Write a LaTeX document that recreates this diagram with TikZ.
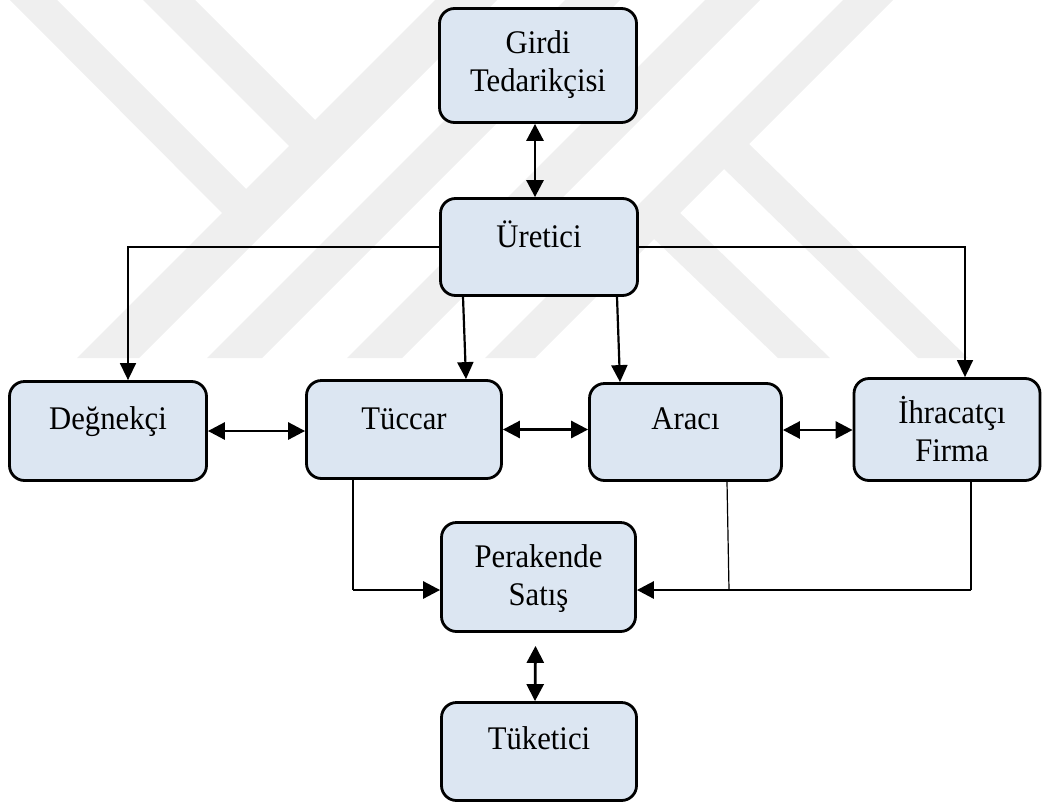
\documentclass[tikz,border=0pt]{standalone}
\usepackage{fontspec}
\setmainfont{Liberation Serif}[FakeStretch=0.93]
\usetikzlibrary{arrows.meta,positioning}

\definecolor{kutumavi}{RGB}{220,230,242}
\definecolor{filigran}{RGB}{239,239,239}

\tikzset{
  kutu/.style={draw=black,line width=2.8pt,rounded corners=15pt,fill=kutumavi,inner sep=0pt},
  yazi/.style={inner sep=0pt,align=center,anchor=north,font=\fontsize{33}{38}\selectfont,execute at begin node=\strut},
  ince/.style={draw=black,line width=1.2pt},
  dal/.style={draw=black,line width=1.5pt,-{Triangle[length=17pt,width=16pt]}},
  ok/.style={draw=black,line width=2.2pt,-{Triangle[length=17pt,width=16pt]}},
  kalinok/.style={draw=black,line width=2.8pt,-{Triangle[length=17pt,width=17pt]}},
  ciftok/.style={draw=black,line width=2.8pt,{Triangle[length=17pt,width=17pt]}-{Triangle[length=17pt,width=17pt]}}
}

\begin{document}
\begin{tikzpicture}[x=1pt,y=-1pt]

\useasboundingbox (0,0) rectangle (1051,803);

%filigran
\begin{scope}
\clip (0,0) rectangle (1051,358);
\fill[filigran] (435,0) -- (497,0) -- (139,358) -- (77,358) -- cycle;
\fill[filigran] (565,0) -- (620,0) -- (262,358) -- (207,358) -- cycle;
\fill[filigran] (705,0) -- (760,0) -- (402,358) -- (347,358) -- cycle;
\fill[filigran] (843,0) -- (893,0) -- (535,358) -- (485,358) -- cycle;
\fill[filigran] (10,0) -- (57,0) -- (253,196) -- (229,220) -- cycle;
\fill[filigran] (143,0) -- (195,0) -- (322,127) -- (296,153) -- cycle;
\fill[filigran] (650,235) -- (676,209) -- (830,358) -- (778,358) -- cycle;
\fill[filigran] (720,165) -- (745,140) -- (968,358) -- (918,358) -- cycle;
\end{scope}

%kutular
\node[kutu,minimum width=197pt,minimum height=114pt] (girdi) at (538,65.5) {};
\node[kutu,minimum width=197pt,minimum height=97pt] (uretici) at (539,247) {};
\node[kutu,minimum width=197pt,minimum height=99pt] (degnek) at (108,431) {};
\node[kutu,minimum width=195pt,minimum height=98pt] (tuccar) at (404,429.5) {};
\node[kutu,minimum width=192pt,minimum height=97pt] (araci) at (685.5,432) {};
\node[kutu,minimum width=186pt,minimum height=102pt] (ihrac) at (947,429.5) {};
\node[kutu,minimum width=194pt,minimum height=109pt] (perakende) at (538.5,577) {};
\node[kutu,minimum width=195pt,minimum height=98pt] (tuketici) at (539,751.5) {};

%yazilar
\node[yazi,below=23pt of girdi.north] (girdit) {Girdi\\Tedarikçisi};
\node[yazi,below=23pt of uretici.north] (ureticit) {Üretici};
\node[yazi,below=23pt of degnek.north] (degnekt) {Değnekçi};
\node[yazi,below=24pt of tuccar.north] (tuccart) {Tüccar};
\node[yazi,below=21pt of araci.north] (aracit) {Aracı};
\node[yazi,below=19pt of ihrac.north,xshift=5pt] (ihract) {İhracatçı\\Firma};
\node[yazi,below=23pt of perakende.north] (perakendet) {Perakende\\Satış};
\node[yazi,below=22pt of tuketici.north] (tuketicit) {Tüketici};

%uretici
\draw[ciftok] ([xshift=-3pt]girdi.south) -- ([xshift=-4pt]uretici.north);
\draw[dal] (uretici.west) -| ([xshift=20pt]degnek.north);
\draw[dal] (uretici.east) -| ([xshift=18pt]ihrac.north);
\draw[ok] ([xshift=-76pt]uretici.south) -- ([xshift=62pt]tuccar.north);
\draw[ok] ([xshift=78pt]uretici.south) -- ([xshift=-65.5pt]araci.north);

%aracilar
\draw[ciftok] (degnek.east) -- (degnek.east -| tuccar.west);
\draw[ciftok] (tuccar.east) -- (tuccar.east -| araci.west);
\draw[ciftok] ([yshift=2pt]araci.east) -- ([yshift=2pt]araci.east -| ihrac.west);

%perakende
\coordinate (sol) at (353,590);
\coordinate (orta) at (729,590);
\coordinate (sag) at (971,590);
\draw[ince] (tuccar.south -| sol) -- (sol);
\draw[kalinok] (sol) -- (sol -| perakende.west);
\draw[ince] ([xshift=-2pt]araci.south -| orta) -- (orta);
\draw[ince] (ihrac.south -| sag) -- (sag);
\draw[kalinok] (sag) -- (sag -| perakende.east);

%tuketici
\draw[ciftok] ([xshift=-3pt,yshift=-13pt]perakende.south) -- ([xshift=-4pt]tuketici.north);

\end{tikzpicture}
\end{document}
